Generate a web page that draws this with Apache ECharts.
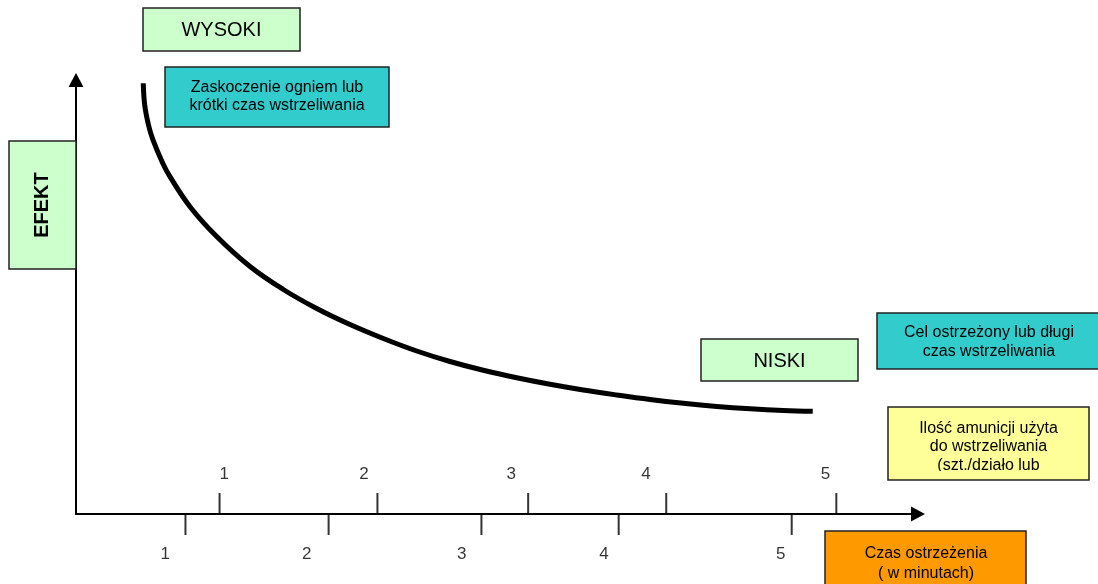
<!DOCTYPE html>
<html>
<head>
<meta charset="utf-8">
<script src="https://cdn.jsdelivr.net/npm/echarts@6/dist/echarts.min.js"></script>
<style>
html,body{margin:0;padding:0;background:#fff;}
#chart{width:1098px;height:584px;}
</style>
</head>
<body>
<div id="chart"></div>
<script>
// ---- data (abstract 0..100 scale on both axes) ----
var curveX = [7.99, 8.16, 8.61, 9.14, 10.29, 11.16, 13.54, 16.71, 20.67, 24.62, 28.59, 32.54, 36.5, 40.46, 44.42, 48.37, 52.34, 56.29, 60.25, 64.22, 68.17, 72.13, 76.09, 80.05, 84.0, 87.5];
var curveY = [99.24, 94.24, 89.63, 86.18, 80.88, 77.72, 70.81, 63.94, 57.03, 51.73, 47.35, 43.66, 40.44, 37.56, 35.14, 33.11, 31.38, 29.88, 28.57, 27.42, 26.38, 25.51, 24.79, 24.24, 23.85, 23.66];

var tickLabels = ['1', '2', '3', '4', '5'];
var upperTickX = [17.05, 35.8, 53.7, 70.1, 90.3];
var upperLabelX = [17.6, 34.2, 51.7, 67.7, 89.0];
var lowerTickX = [13.0, 30.0, 48.15, 64.45, 85.0];
var lowerLabelX = [10.6, 27.4, 45.8, 62.7, 83.7];

var txtHigh = 'WYSOKI';
var txtLow = 'NISKI';
var txtEffect = 'EFEKT';
var txtSurprise = 'Zaskoczenie ogniem lub\nkrótki czas wstrzeliwania';
var txtWarned = 'Cel ostrzeżony lub długi\nczas wstrzeliwania';
var txtAmmo = 'Ilość amunicji użyta\ndo wstrzeliwania\n(szt./działo lub';
var txtTime = 'Czas ostrzeżenia\n( w minutach)';

// ---- build ----
var FONT = '"Liberation Sans", Arial, sans-serif';
function box(x, y, w, h, fill) {
  return { type: 'rect', z: 50, shape: { x: x, y: y, width: w, height: h },
           style: { fill: fill, stroke: '#222', lineWidth: 1.5 } };
}
function label(x, y, text, size, bold, lh, rot) {
  return { type: 'text', z: 60, x: x, y: y, rotation: rot || 0,
           style: { text: text, fill: '#000', font: (bold ? 'bold ' : '') + size + 'px ' + FONT,
                    align: 'center', verticalAlign: 'middle', textAlign: 'center', textVerticalAlign: 'middle',
                    lineHeight: lh || size } };
}
function pairs(xs, ys) { return xs.map(function (v, i) { return [v, ys[i]]; }); }
function zeros(xs) { return xs.map(function (v) { return [v, 0]; }); }

var chart = echarts.init(document.getElementById('chart'), null, { renderer: 'canvas' });
var axisCommon = {
  type: 'value', min: 0, max: 100,
  axisLine: { show: true, lineStyle: { color: '#000', width: 2 }, symbol: ['none', 'triangle'], symbolSize: [15, 14] },
  axisTick: { show: false }, axisLabel: { show: false }, splitLine: { show: false }
};
function tickLabelSeries(xs, dy) {
  return { type: 'scatter', data: zeros(xs), symbolSize: 1, itemStyle: { color: 'rgba(0,0,0,0)' }, clip: false, silent: true,
    label: { show: true, position: 'inside', offset: [0, dy], color: '#000', fontSize: 17, fontFamily: FONT,
             formatter: function (p) { return tickLabels[p.dataIndex]; } } };
}
var option = {
  backgroundColor: '#fff',
  animation: false,
  grid: { left: 76, top: 80, width: 842, height: 434 },
  xAxis: axisCommon,
  yAxis: axisCommon,
  series: [
    { type: 'line', data: pairs(curveX, curveY), smooth: 0.4, showSymbol: false, symbol: 'none',
      lineStyle: { color: '#000', width: 5 }, clip: false },
    { type: 'scatter', data: zeros(upperTickX), symbol: 'rect', symbolSize: [2, 21], symbolOffset: [0, -10.5],
      itemStyle: { color: '#000' }, clip: false, silent: true },
    { type: 'scatter', data: zeros(lowerTickX), symbol: 'rect', symbolSize: [2, 21], symbolOffset: [0, 10.5],
      itemStyle: { color: '#000' }, clip: false, silent: true },
    tickLabelSeries(upperLabelX, -40),
    tickLabelSeries(lowerLabelX, 40)
  ],
  graphic: [
    box(143, 8, 157, 43, '#CCFFCC'), label(221.5, 30, txtHigh, 20),
    box(165, 67, 224, 60, '#33CCCC'), label(277, 97, txtSurprise, 16, false, 18),
    box(9, 141, 67, 128, '#CCFFCC'), label(42, 205, txtEffect, 20, true, 20, Math.PI / 2),
    box(701, 339, 157, 42, '#CCFFCC'), label(779.5, 361, txtLow, 20),
    box(877, 313, 224, 56, '#33CCCC'), label(989, 342, txtWarned, 16, false, 19),
    box(888, 407, 201, 73, '#FFFF99'), label(988.5, 447, txtAmmo, 16, false, 18.5),
    { type: 'rect', z: 70, shape: { x: 889, y: 471, width: 199, height: 8 }, style: { fill: '#FFFF99' } },
    { type: 'rect', z: 70, shape: { x: 814, y: 479, width: 22, height: 6 }, style: { fill: '#fff' } },
    box(825, 531, 201, 60, '#FF9900'), label(926, 564, txtTime, 16, false, 20)
  ]
};
chart.setOption(option);
</script>
</body>
</html>
